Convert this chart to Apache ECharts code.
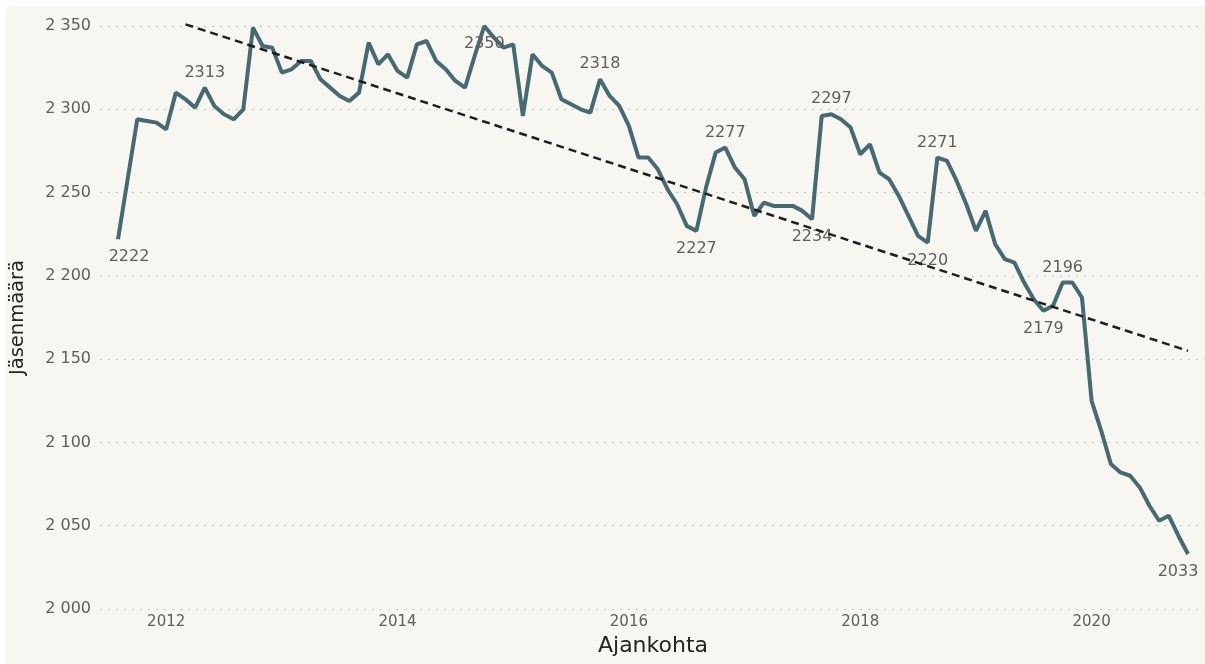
<!DOCTYPE html>
<html>
<head>
<meta charset="utf-8">
<title>Jäsenmäärä</title>
<script src="https://cdn.jsdelivr.net/npm/echarts@6/dist/echarts.min.js"></script>
<style>
  html, body { margin: 0; padding: 0; background: #fff; }
  #chart { position: absolute; left: 6px; top: 6px; width: 1199px; height: 658px; background: #f8f6f1; }
</style>
</head>
<body>
<div id="chart"></div>
<script>
// kuukaudet 2011-08 ... 2020-11
const firstMonth = [2011, 8];
const lastMonth = [2020, 11];
const months = [];
for (let y = firstMonth[0], m = firstMonth[1]; y < lastMonth[0] || (y === lastMonth[0] && m <= lastMonth[1]); m++) {
    if (m > 12) { m = 1; y++; }
    months.push(y + '-' + String(m).padStart(2, '0'));
}

// jäsenmäärä kuukausittain
const members = [
    2222, 2258, 2294, 2293, 2292, 2288, 2310, 2306, 2301, 2313,
    2302, 2297, 2294, 2300, 2349, 2338, 2337, 2322, 2324, 2329,
    2329, 2318, 2313, 2308, 2305, 2310, 2340, 2327, 2333, 2323,
    2319, 2339, 2341, 2329, 2324, 2317, 2313, 2332, 2350, 2343,
    2337, 2339, 2296, 2333, 2326, 2322, 2306, 2303, 2300, 2298,
    2318, 2308, 2302, 2290, 2271, 2271, 2264, 2252, 2243, 2230,
    2227, 2253, 2274, 2277, 2265, 2258, 2236, 2244, 2242, 2242,
    2242, 2239, 2234, 2296, 2297, 2294, 2289, 2273, 2279, 2262,
    2258, 2248, 2236, 2224, 2220, 2271, 2269, 2257, 2243, 2227,
    2239, 2219, 2210, 2208, 2196, 2186, 2179, 2182, 2196, 2196,
    2187, 2125, 2107, 2087, 2082, 2080, 2073, 2062, 2053, 2056,
    2044, 2033
];

// arvot näytetään näissä kohdissa
const labelsAbove = [9, 50, 63, 74, 85, 98];
const labelsBelow = [0, 38, 60, 72, 84, 96, 111];

// trendiviiva (alku- ja loppupiste)
const trendIndex = [7, 111];
const trendValue = [2351, 2155];

const yMin = 2000, yMax = 2350, yStep = 50;

const font = 'DejaVu Sans';
const grey = '#605e5c';

let chart = echarts.init(document.getElementById('chart'));

const lineData = members.map((v, i) => {
    let pos = labelsAbove.includes(i) ? 'top' : (labelsBelow.includes(i) ? 'bottom' : null);
    if (!pos) return v;
    let dx = 0;
    if (i === 0) dx = 11;
    if (i === members.length - 1) dx = -10;
    return {
        value: v,
        label: { show: true, position: pos, distance: pos === 'top' ? 7 : 10, offset: [dx, 0] }
    };
});

chart.setOption({
    animation: false,
    grid: [
        { left: 94, right: 0, top: 20, bottom: 55, outerBoundsMode: 'none' },
        { left: 112, right: 17, top: 20, bottom: 55, outerBoundsMode: 'none' }
    ],
    xAxis: [
        { gridIndex: 0, type: 'value', min: 0, max: 1, show: false },
        {
            gridIndex: 1,
            type: 'category',
            data: months,
            boundaryGap: false,
            axisLine: { show: false },
            axisTick: { show: false },
            axisLabel: {
                interval: (idx, val) => val.endsWith('-01') && Number(val.slice(0, 4)) % 2 === 0,
                formatter: val => val.slice(0, 4),
                color: grey,
                fontFamily: font,
                fontSize: 15,
                margin: 6
            },
            name: 'Ajankohta',
            nameLocation: 'middle',
            nameGap: 26,
            nameTextStyle: { color: '#252423', fontFamily: font, fontSize: 22 }
        }
    ],
    yAxis: [
        {
            gridIndex: 0,
            type: 'value',
            min: yMin,
            max: yMax,
            interval: yStep,
            axisLine: { show: false },
            axisTick: { show: false },
            axisLabel: {
                formatter: v => String(v).replace(/\B(?=(\d{3})+(?!\d))/g, ' '),
                color: grey,
                fontFamily: font,
                fontSize: 16,
                margin: 9
            },
            splitLine: { lineStyle: { color: '#c8c6c4', width: 1, type: [2, 6] } },
            name: 'Jäsenmäärä',
            nameLocation: 'middle',
            nameGap: 72,
            nameMoveOverlap: false,
            nameTextStyle: { color: '#252423', fontFamily: font, fontSize: 19.5 }
        },
        { gridIndex: 1, type: 'value', min: yMin, max: yMax, show: false }
    ],
    series: [
        {
            name: 'Jäsenmäärä',
            type: 'line',
            xAxisIndex: 1,
            yAxisIndex: 1,
            data: lineData,
            symbol: 'circle',
            symbolSize: 0,
            showSymbol: true,
            showAllSymbol: true,
            lineStyle: { color: '#466a72', width: 4 },
            itemStyle: { color: '#466a72' },
            label: { show: false, color: grey, fontFamily: font, fontSize: 16 },
            z: 2
        },
        {
            name: 'Trendi',
            type: 'line',
            xAxisIndex: 1,
            yAxisIndex: 1,
            data: trendIndex.map((x, i) => [x, trendValue[i]]),
            symbol: 'none',
            clip: false,
            lineStyle: { color: '#1e1e1e', width: 2.5, type: [8, 5] },
            z: 3
        }
    ]
});
</script>
</body>
</html>
